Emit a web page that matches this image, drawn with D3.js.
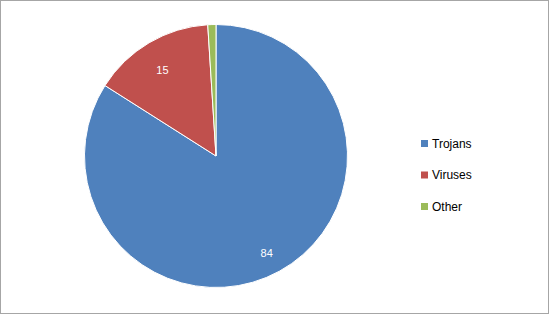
<!DOCTYPE html>
<html>
<head>
<meta charset="utf-8">
<script src="https://cdn.jsdelivr.net/npm/d3@7"></script>
<style>
  body { margin: 0; background: #fff; }
  svg { display: block; font-family: Arial, "Liberation Sans", sans-serif; }
</style>
</head>
<body>
<div id="main"></div>
<script>
var categories = ["Trojans", "Viruses", "Other"];
var values = [84, 15, 1];
var colors = ["#4F81BD", "#C0504D", "#9BBB59"];

var width = 550, height = 315;
var cx = 216, cy = 156, radius = 131.5;

var svg = d3.select("#main").append("svg")
    .attr("width", width)
    .attr("height", height);

// chart border
svg.append("rect")
    .attr("x", 0.5).attr("y", 0.5)
    .attr("width", 548).attr("height", 313)
    .attr("fill", "#fff")
    .attr("stroke", "#a6a6a6");

var data = categories.map(function(c, i){ return {name: c, value: values[i], color: colors[i]}; });

var pie = d3.pie().sort(null).value(function(d){ return d.value; });
var arc = d3.arc().innerRadius(0).outerRadius(radius);
var labelArc = d3.arc().innerRadius(radius * 0.8).outerRadius(radius * 0.8);

var g = svg.append("g").attr("transform", "translate(" + cx + "," + cy + ")");

var slices = g.selectAll(".slice")
    .data(pie(data))
    .enter().append("g")
    .attr("class", "slice");

slices.append("path")
    .attr("d", arc)
    .attr("fill", function(d){ return d.data.color; })
    .attr("stroke", "#fff")
    .attr("stroke-width", 1);

// data labels (the tiny slice has none)
slices.filter(function(d){ return d.data.value > 5; })
    .append("text")
    .attr("transform", function(d){
      var c = labelArc.centroid(d);
      return "translate(" + c[0] + "," + (c[1] + 5) + ")";
    })
    .attr("text-anchor", "middle")
    .attr("dy", "0.35em")
    .attr("fill", "#fff")
    .attr("font-size", "11px")
    .text(function(d){ return d.data.value; });

// legend
var legend = svg.append("g").attr("transform", "translate(421,138)");
var items = legend.selectAll(".item")
    .data(data)
    .enter().append("g")
    .attr("class", "item")
    .attr("transform", function(d, i){ return "translate(0," + (i * 31.5) + ")"; });

items.append("rect")
    .attr("width", 7).attr("height", 7)
    .attr("y", 2)
    .attr("fill", function(d){ return d.color; });

items.append("text")
    .attr("x", 11)
    .attr("y", 5.5)
    .attr("dy", "0.35em")
    .attr("font-size", "12px")
    .attr("fill", "#000")
    .text(function(d){ return d.name; });
</script>
</body>
</html>
